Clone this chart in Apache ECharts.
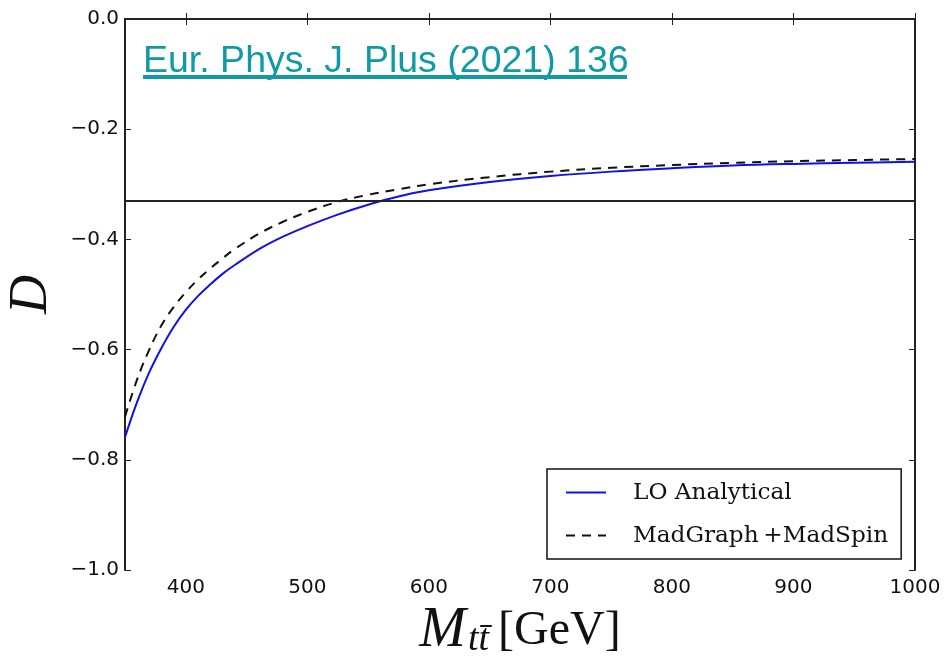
<!DOCTYPE html>
<html>
<head>
<meta charset="utf-8">
<script src="https://cdn.jsdelivr.net/npm/echarts@6/dist/echarts.min.js"></script>
<style>
  html, body { margin: 0; padding: 0; background: #fff; }
  #chart { width: 948px; height: 660px; }
</style>
</head>
<body>
<div id="chart"></div>
<script>
// values
const massGeV = [350, 360, 370, 380, 390, 400, 410, 420, 430, 440, 460, 480, 500, 525, 550, 575, 600, 650, 700, 750, 800, 850, 900, 950, 1000];
const loAnalytical = [-0.759, -0.695, -0.641, -0.597, -0.559, -0.528, -0.503, -0.482, -0.463, -0.447, -0.418, -0.395, -0.376, -0.355, -0.337, -0.322, -0.311, -0.296, -0.285, -0.277, -0.271, -0.266, -0.263, -0.261, -0.259];
const madGraph = [-0.722, -0.654, -0.600, -0.556, -0.523, -0.496, -0.473, -0.453, -0.435, -0.418, -0.390, -0.368, -0.350, -0.332, -0.319, -0.309, -0.300, -0.287, -0.277, -0.270, -0.265, -0.261, -0.258, -0.256, -0.254];
const refLevel = -1 / 3;
const xTicks = [400, 500, 600, 700, 800, 900, 1000];
const seriesNames = ['LO Analytical', 'MadGraph\u2009+MadSpin'];
const sourceLabel = 'Eur. Phys. J. Plus (2021) 136';

const pairs = (ys) => massGeV.map((m, i) => [m, ys[i]]);
const fmtY = v => (v < 0 ? '\u2212' : '') + Math.abs(v).toFixed(1);

const chart = echarts.init(document.getElementById('chart'));
const axisLine = { show: true, lineStyle: { color: '#222', width: 2 } };
const tickStyle = { inside: true, length: 6, lineStyle: { color: '#222', width: 1 } };
const labelFont = { fontFamily: 'DejaVu Sans', fontSize: 20, color: '#111' };

chart.setOption({
  animation: false,
  grid: { left: 125, right: 33, top: 19, bottom: 90, outerBoundsMode: 'none', containLabel: false },
  legend: {
    data: seriesNames,
    orient: 'vertical',
    left: 547, top: 469,
    padding: [12, 13, 12, 18],
    itemWidth: 40, itemHeight: 14, itemGap: 20,
    itemStyle: { opacity: 0 },
    borderColor: '#111', borderWidth: 1.5, borderRadius: 0,
    textStyle: { fontFamily: 'DejaVu Serif', fontSize: 23.2, color: '#111', padding: [0, 0, 0, 22] }
  },
  xAxis: [
    {
      type: 'value', min: 350, max: 1000,
      axisLine: axisLine,
      axisTick: Object.assign({ customValues: xTicks }, tickStyle),
      axisLabel: Object.assign({ customValues: xTicks, margin: 8, formatter: v => String(v) }, labelFont),
      splitLine: { show: false },
      name: '{m|M}{s|tt\u0304}{g|[GeV]}',
      nameLocation: 'middle', nameGap: 30,
      nameTextStyle: {
        rich: {
          m: { fontFamily: 'Liberation Serif', fontStyle: 'italic', fontSize: 56, color: '#111', padding: [0, 2, 0, 0] },
          s: { fontFamily: 'Liberation Serif', fontStyle: 'italic', fontSize: 38, color: '#111', verticalAlign: 'bottom', padding: [18, 9, 0, 0] },
          g: { fontFamily: 'Liberation Serif', fontSize: 48, color: '#111' }
        }
      }
    },
    {
      type: 'value', min: 350, max: 1000, position: 'top',
      axisLine: axisLine,
      axisTick: Object.assign({ customValues: xTicks }, tickStyle),
      axisLabel: { show: false },
      splitLine: { show: false }
    }
  ],
  yAxis: [
    {
      type: 'value', min: -1, max: 0, interval: 0.2,
      axisLine: axisLine,
      axisTick: tickStyle,
      axisLabel: Object.assign({ formatter: fmtY, margin: 6 }, labelFont),
      splitLine: { show: false },
      name: 'D', nameLocation: 'middle', nameGap: 66, nameRotate: 90,
      nameTextStyle: { fontFamily: 'Liberation Serif', fontStyle: 'italic', fontSize: 54, color: '#111' }
    },
    {
      type: 'value', min: -1, max: 0, interval: 0.2, position: 'right',
      axisLine: axisLine,
      axisTick: tickStyle,
      axisLabel: { show: false },
      splitLine: { show: false }
    }
  ],
  graphic: [
    {
      type: 'text', left: 143, top: 43,
      style: { text: sourceLabel, fontFamily: 'Liberation Sans', fontSize: 37.5, fill: '#0f9aa6' }
    },
    {
      type: 'rect', left: 143, top: 75,
      shape: { width: 484, height: 4 },
      style: { fill: '#0f9aa6' }
    }
  ],
  series: [
    {
      name: seriesNames[0], type: 'line', data: pairs(loAnalytical),
      smooth: 0.4, symbol: 'none',
      lineStyle: { color: '#1010ee', width: 2 },
      itemStyle: { color: '#1010ee' },
      markLine: {
        silent: true, symbol: 'none', label: { show: false },
        lineStyle: { color: '#222', width: 2, type: 'solid' },
        data: [{ yAxis: refLevel }]
      },
      z: 3
    },
    {
      name: seriesNames[1], type: 'line', data: pairs(madGraph),
      smooth: 0.4, symbol: 'none',
      lineStyle: { color: '#111', width: 2, type: [9, 7] },
      itemStyle: { color: '#111' },
      z: 4
    }
  ]
});
</script>
</body>
</html>
